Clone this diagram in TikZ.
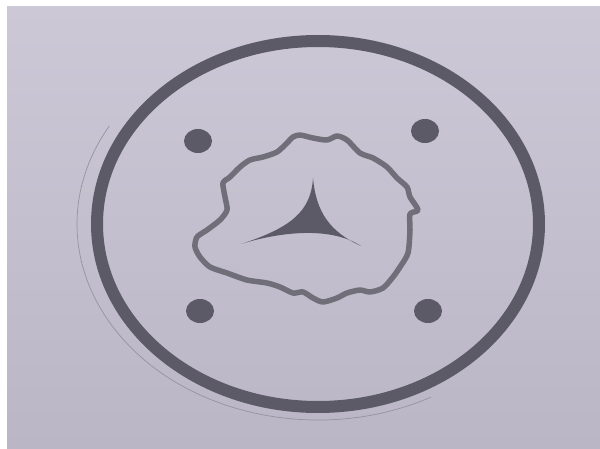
\documentclass[tikz,border=0pt]{standalone}
\usetikzlibrary{calc}
\definecolor{paper}{RGB}{204,200,214}
\definecolor{paperdark}{RGB}{186,182,198}
\definecolor{ink}{RGB}{92,90,102}
\definecolor{inklight}{RGB}{112,110,120}
\definecolor{pencil}{RGB}{150,146,160}
\begin{document}
\begin{tikzpicture}[
    x=1pt, y=-1pt,
    ring/.style={draw=ink, line width=12pt},
    rim/.style={draw=pencil, line width=0.7pt},
    spot/.style={fill=ink},
    outline/.style={draw=inklight, line width=5.5pt, line join=round},
    star/.style={fill=ink}
]
    % sheet and margins
    \fill[white] (0,0) rectangle (600,449);
    \shade[bottom color=paperdark, top color=paper] (7,7) rectangle (600,449);
    \useasboundingbox (0,0) rectangle (600,449);
    % faint pencil edge round the disc
    \coordinate (mid) at (318,224);
    \draw[rim] ($(mid)+(62:241 and 196)$) arc[start angle=62, end angle=210, x radius=241, y radius=196];
    % outer ring
    \draw[ring] (mid) ellipse[x radius=221, y radius=183];
    % four holes
    \foreach \px/\py [count=\k] in {198/141, 425/131, 200/311, 428/311} {
        \fill[spot] (\px,\py) ellipse[x radius=14, y radius=12];
    }
    % torn outline
    \draw[outline] plot[smooth cycle, tension=0.45] coordinates {
        (300,135) (313,138) (327,140) (337,136) (347,140) (360,153) (373,158)
        (387,167) (397,178) (407,187) (410,197) (418,210) (410,214) (410,230)
        (408,253) (400,267) (393,277) (383,288) (370,292) (360,290) (347,293)
        (337,298) (323,302) (313,298) (303,292) (293,293) (280,287) (267,283)
        (247,280) (227,273) (210,267) (200,257) (195,247) (197,237) (207,230)
        (220,220) (227,210) (225,197) (223,183) (230,177) (240,167) (250,160)
        (263,157) (277,152) (287,143) (293,137)};
    % three-pointed mark
    \coordinate (tip1) at (313,178);
    \coordinate (tip2) at (241,244);
    \coordinate (tip3) at (361,246);
    \fill[star] (tip1) .. controls (311,212) and (290,228) .. (tip2)
        .. controls (280,232) and (330,226) .. (tip3)
        .. controls (330,232) and (316,212) .. (tip1) -- cycle;
\end{tikzpicture}
\end{document}
